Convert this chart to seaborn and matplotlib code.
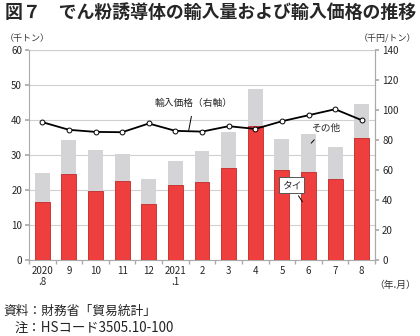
import numpy as np
import pandas as pd
import matplotlib
matplotlib.use("Agg")
import matplotlib.pyplot as plt
import seaborn as sns

months = ["2020\n.8", "9", "10", "11", "12", "2021\n.1", "2", "3", "4", "5", "6", "7", "8"]
thai = [16.7, 24.5, 19.9, 22.6, 16.1, 21.5, 22.3, 26.2, 38.2, 25.8, 25.1, 23.3, 34.9]
total = [24.9, 34.4, 31.4, 30.4, 23.3, 28.2, 31.2, 36.6, 48.9, 34.7, 36.0, 32.2, 44.7]
price = [92.0, 86.9, 85.5, 85.3, 91.1, 86.2, 85.7, 89.3, 87.5, 92.6, 96.6, 100.6, 93.3]
left_ticks = [0, 10, 20, 30, 40, 50, 60]
right_ticks = [0, 20, 40, 60, 80, 100, 120, 140]

sns.set_theme(style="white")
plt.rcParams['font.family'] = ['Noto Sans CJK JP', 'DejaVu Sans']

df = pd.DataFrame({"month": months, "thai": thai, "total": total, "price": price})

fig = plt.figure(figsize=(4.2, 3.36), dpi=100)
ax = fig.add_axes([0.069, 0.2253, 0.824, 0.6257])

sns.barplot(data=df, x="month", y="total", order=months, color="#d4d4d6",
            saturation=1, width=0.56, ax=ax, zorder=2, edgecolor="none")
sns.barplot(data=df, x="month", y="thai", order=months, color="#ef3e3e",
            saturation=1, width=0.56, ax=ax, zorder=3, edgecolor="#c02a2a", linewidth=0.6)

ax.set_ylim(0, 60)
ax.set_yticks(left_ticks)
ax.yaxis.grid(True, color="#d0d0d0", linewidth=0.8, zorder=0)
ax.set_axisbelow(True)
ax.set_xlabel("")
ax.set_ylabel("")
ax.spines["top"].set_visible(False)
for s in ["left", "right", "bottom"]:
    ax.spines[s].set_color("#aaaaaa")
    ax.spines[s].set_linewidth(0.8)
ax.tick_params(axis="y", labelsize=7, length=3, color="#aaaaaa", pad=2, left=True)
ax.tick_params(axis="x", labelsize=7, length=0, pad=4)
ax.set_xticks(np.arange(len(months) + 1) - 0.5, minor=True)
ax.tick_params(axis="x", which="minor", length=3, color="#aaaaaa", bottom=True)

ax2 = ax.twinx()
sns.lineplot(x=np.arange(len(months)), y=price, ax=ax2, color="black", linewidth=1.3,
             marker="o", markersize=3.5, markerfacecolor="white", markeredgecolor="black",
             markeredgewidth=0.7, zorder=5)
ax2.set_ylim(0, 140)
ax2.set_yticks(right_ticks)
ax2.tick_params(axis="y", labelsize=7, length=3, color="#aaaaaa", pad=2, right=True)
for s in ["top", "left", "bottom"]:
    ax2.spines[s].set_visible(False)
ax2.spines["right"].set_color("#aaaaaa")
ax2.spines["right"].set_linewidth(0.8)
ax.set_xlim(-0.5, len(months) - 0.5)
ax2.set_xlim(-0.5, len(months) - 0.5)

ax.axhline(60, color="#cccccc", linewidth=0.8, zorder=1)

ax2.annotate("輸入価格（右軸）", xy=(5.5, 86.5), xytext=(5.7, 105),
             fontsize=7, ha="center", va="center",
             arrowprops=dict(arrowstyle="-", color="black", lw=0.7, shrinkA=4, shrinkB=0))
ax2.annotate("その他", xy=(10.1, 78), xytext=(10.64, 88.5),
             fontsize=7, ha="center", va="center",
             arrowprops=dict(arrowstyle="-", color="black", lw=0.7, shrinkA=4, shrinkB=0))
ax2.annotate("タイ", xy=(9.77, 39), xytext=(9.36, 50),
             fontsize=7, ha="center", va="center",
             bbox=dict(boxstyle="square,pad=0.3", fc="white", ec="#555555", lw=0.7),
             arrowprops=dict(arrowstyle="-", color="black", lw=0.7, shrinkA=2, shrinkB=0))

fig.text(0.012, 0.962, "図７　でん粉誘導体の輸入量および輸入価格の推移",
         fontsize=12.9, fontweight="bold", ha="left", va="center")
fig.text(0.012, 0.885, "（千トン）", fontsize=6.5, ha="left", va="center", color="#333333")
fig.text(0.99, 0.885, "（千円/トン）", fontsize=6.5, ha="right", va="center", color="#333333")
fig.text(0.99, 0.152, "（年.月）", fontsize=7, ha="right", va="center", color="#333333")
fig.text(0.008, 0.074, "資料：財務省「貿易統計」", fontsize=9.2, ha="left", va="center", color="#222222")
fig.text(0.035, 0.024, "注：HSコード3505.10-100", fontsize=9.6, ha="left", va="center", color="#222222")

fig.savefig("out.png", dpi=100)
